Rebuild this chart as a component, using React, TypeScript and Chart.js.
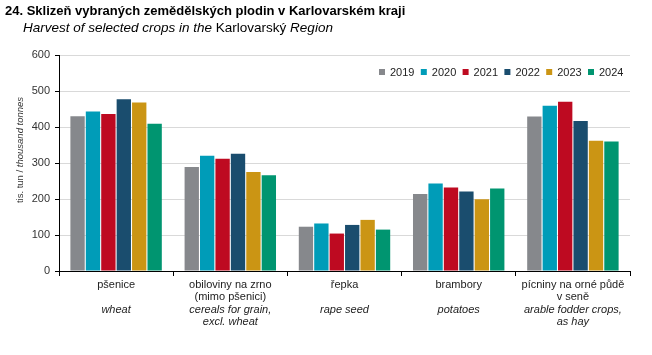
import React, { useEffect, useRef } from "react";
import { Chart, registerables } from "chart.js";

Chart.register(...registerables);

const years = ["2019", "2020", "2021", "2022", "2023", "2024"];
const categoriesCz = [
  ["pšenice"],
  ["obiloviny na zrno", "(mimo pšenici)"],
  ["řepka"],
  ["brambory"],
  ["pícniny na orné půdě", "v seně"],
];
const categoriesEn = [
  ["wheat"],
  ["cereals for grain,", "excl. wheat"],
  ["rape seed"],
  ["potatoes"],
  ["arable fodder crops,", "as hay"],
];
const values2019 = [430, 289, 123, 214, 429];
const values2020 = [443, 320, 132, 243, 459];
const values2021 = [436, 312, 104, 232, 470];
const values2022 = [477, 326, 128, 221, 417];
const values2023 = [468, 275, 142, 199, 362];
const values2024 = [409, 266, 115, 229, 360];
const yTicks = [0, 100, 200, 300, 400, 500, 600];

const seriesValues = [values2019, values2020, values2021, values2022, values2023, values2024];
const colors = ["#86888C", "#009CB8", "#BE0A21", "#1A4D6E", "#CB9514", "#009570"];

const FONT = "'Liberation Sans', Arial, sans-serif";

const decorPlugin = {
  id: "decor",
  afterDraw(chart: any) {
    const ctx = chart.ctx;
    ctx.save();
    // Title
    ctx.fillStyle = "#000";
    ctx.textBaseline = "middle";
    ctx.textAlign = "left";
    ctx.font = `bold 13px ${FONT}`;
    ctx.fillText("24. Sklizeň vybraných zemědělských plodin v Karlovarském kraji", 5, 11);
    // Subtitle mixed
    let x = 23;
    const parts: [string, string][] = [
      ["Harvest of selected crops in the ", "italic"],
      ["Karlovarský", "normal"],
      [" Region", "italic"],
    ];
    for (const [t, st] of parts) {
      ctx.font = `${st} 13.5px ${FONT}`;
      ctx.fillText(t, x, 28);
      x += ctx.measureText(t).width;
    }
    // Y axis title (rotated)
    ctx.save();
    ctx.translate(20, 150);
    ctx.rotate(-Math.PI / 2);
    ctx.fillStyle = "#333";
    const yparts: [string, string][] = [
      ["tis. tun / ", "normal"],
      ["thousand tonnes", "italic"],
    ];
    const yFont = 9.5;
    let total = 0;
    for (const [t, st] of yparts) {
      ctx.font = `${st} ${yFont}px ${FONT}`;
      total += ctx.measureText(t).width;
    }
    let yx = -total / 2;
    for (const [t, st] of yparts) {
      ctx.font = `${st} ${yFont}px ${FONT}`;
      ctx.fillText(t, yx, 0);
      yx += ctx.measureText(t).width;
    }
    ctx.restore();
    // X labels
    const xs = chart.scales.x;
    ctx.fillStyle = "#222";
    ctx.textAlign = "center";
    categoriesCz.forEach((lines, i) => {
      const cx = xs.getPixelForValue(i);
      ctx.font = `normal 11px ${FONT}`;
      lines.forEach((l, j) => ctx.fillText(l, cx, 285 + j * 12));
      ctx.font = `italic 11px ${FONT}`;
      categoriesEn[i].forEach((l, j) => ctx.fillText(l, cx, 310 + j * 12));
    });
    // Legend
    ctx.textAlign = "left";
    ctx.font = `normal 11px ${FONT}`;
    years.forEach((yr, i) => {
      const lx = 379 + i * 41.8;
      ctx.fillStyle = colors[i];
      ctx.fillRect(lx, 69, 6, 6);
      ctx.fillStyle = "#222";
      ctx.fillText(yr, lx + 11, 72.5);
    });
    ctx.restore();
  },
};

export default function App() {
  const ref = useRef<HTMLCanvasElement>(null);
  useEffect(() => {
    const chart = new Chart(ref.current!, {
      type: "bar",
      data: {
        labels: categoriesCz.map((c) => c.join(" ")),
        datasets: years.map((yr, i) => ({
          label: yr,
          data: seriesValues[i],
          backgroundColor: colors[i],
          borderWidth: 0,
          barPercentage: 0.93,
          categoryPercentage: 0.81,
        })),
      },
      options: {
        animation: false,
        responsive: false,
        devicePixelRatio: 1,
        layout: { padding: { left: 0, right: 22, top: 55, bottom: 0 } },
        plugins: { legend: { display: false }, tooltip: { enabled: false }, title: { display: false } },
        scales: {
          x: {
            ticks: { display: false },
            grid: { offset: true, drawOnChartArea: false, drawTicks: true, tickLength: 5, tickColor: "#000" },
            border: { display: true, color: "#000", width: 1 },
            afterFit: (s: any) => {
              s.height = 84;
            },
          },
          y: {
            min: 0,
            max: 600,
            afterBuildTicks: (s: any) => {
              s.ticks = yTicks.map((v) => ({ value: v }));
            },
            ticks: { font: { family: FONT, size: 11 }, color: "#333", padding: 5 },
            grid: { color: "#D9D9D9", lineWidth: 1, drawTicks: true, tickLength: 4, tickColor: "#000" },
            border: { display: true, color: "#000", width: 1 },
            afterFit: (s: any) => {
              s.width = 59;
            },
          },
        },
      },
      plugins: [decorPlugin],
    });
    return () => chart.destroy();
  }, []);
  return (
    <div style={{ position: "fixed", left: 0, top: 0, width: 652, height: 355, background: "#fff" }}>
      <canvas ref={ref} width={652} height={355} style={{ width: 652, height: 355, display: "block" }} />
    </div>
  );
}
